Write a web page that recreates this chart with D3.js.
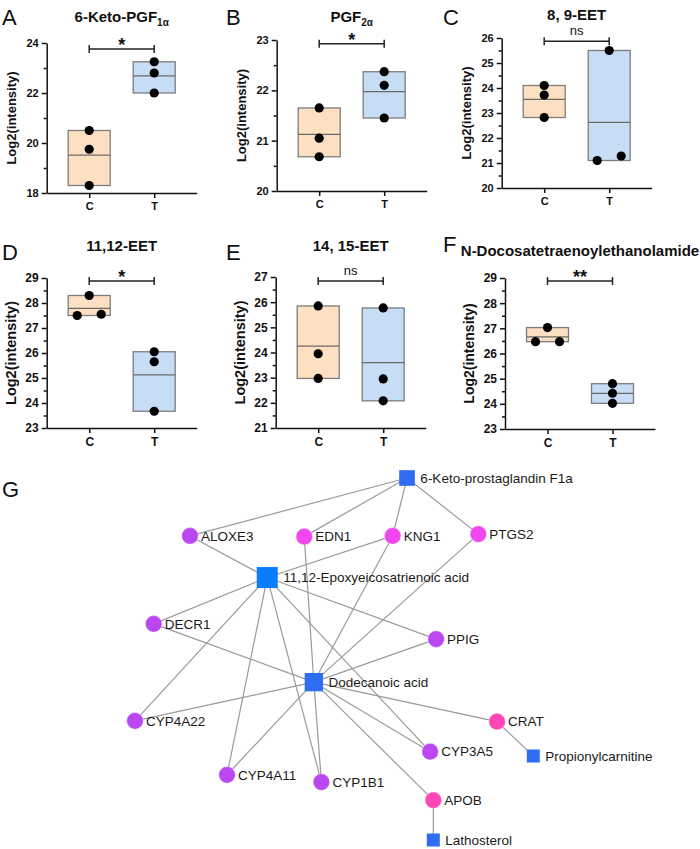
<!DOCTYPE html>
<html><head><meta charset="utf-8">
<script src="https://cdn.jsdelivr.net/npm/d3@7"></script>
<style>body{margin:0;background:#fff}svg{display:block}</style>
</head><body><svg id="c" width="700" height="849"></svg>
<script>
// ---------------- DATA ----------------
const groups = ["C", "T"];
const panelLetters = ["A", "B", "C", "D", "E", "F"];
const titleMain = ["6-Keto-PGF", "PGF", "8, 9-EET", "11,12-EET", "14, 15-EET", "N-Docosatetraenoylethanolamide"];
const titleSub = ["1α", "2α", "", "", "", ""];
const controlValues = [
  [20.5, 19.75, 18.3],
  [21.65, 21.05, 20.68],
  [24.1, 23.72, 22.82],
  [28.3, 27.5, 27.55],
  [25.85, 23.95, 22.97],
  [27.03, 26.47, 26.47]
];
const treatValues = [
  [23.25, 22.8, 22.0],
  [22.37, 22.1, 21.45],
  [25.5, 21.1, 21.28],
  [26.05, 25.65, 23.67],
  [25.77, 22.95, 22.08],
  [24.8, 24.42, 24.02]
];
const yDomains = [[18, 24], [20, 23], [20, 26], [23, 29], [21, 27], [23, 29]];
const majorStep = [2, 1, 1, 1, 1, 1];
const minorStep = [1, 0.5, 0.5, 0.5, 0.5, 0.5];
const sigLabels = ["*", "*", "ns", "*", "ns", "**"];
const yAxisTitle = "Log2(intensity)";

// network
const nodeNames = ["6-Keto-prostaglandin F1a", "ALOXE3", "EDN1", "KNG1", "PTGS2",
  "11,12-Epoxyeicosatrienoic acid", "DECR1", "PPIG", "Dodecanoic acid", "CYP4A22",
  "CRAT", "CYP3A5", "Propionylcarnitine", "CYP4A11", "CYP1B1", "APOB", "Lathosterol"];
const nodeKind = ["met", "gene", "gene", "gene", "gene", "met", "gene", "gene", "met", "gene",
  "gene", "gene", "met", "gene", "gene", "gene", "met"];
const nodeClass = ["metB", "violet", "magenta", "magenta", "magenta", "metA", "violet", "violet", "metB", "violet",
  "pink", "violet", "metB", "violet", "violet", "pink", "metB"];
const nodeWeight = [2, 1, 1, 1, 1, 4, 1, 1, 3, 1, 1, 1, 1, 1, 1, 1, 1];
// layout coordinates of the network (normalized 0-100 layout space)
const nodeLX = [68.3, 13.8, 42.5, 64.7, 86.2, 33.2, 4.7, 75.6, 44.9, 0, 90.9, 74.1, 100, 23.1, 46.8, 74.9, 74.9];
const nodeLY = [0, 16.0, 16.2, 16.0, 15.5, 27.5, 40.3, 44.5, 56.4, 67.1, 67.3, 75.6, 76.8, 82.0, 84.0, 89.0, 100];
const edgeList = [
  ["6-Keto-prostaglandin F1a", "ALOXE3"], ["6-Keto-prostaglandin F1a", "EDN1"],
  ["6-Keto-prostaglandin F1a", "KNG1"], ["6-Keto-prostaglandin F1a", "PTGS2"],
  ["11,12-Epoxyeicosatrienoic acid", "ALOXE3"], ["11,12-Epoxyeicosatrienoic acid", "KNG1"],
  ["11,12-Epoxyeicosatrienoic acid", "DECR1"], ["11,12-Epoxyeicosatrienoic acid", "PPIG"],
  ["11,12-Epoxyeicosatrienoic acid", "CYP4A22"], ["11,12-Epoxyeicosatrienoic acid", "CYP4A11"],
  ["11,12-Epoxyeicosatrienoic acid", "CYP1B1"], ["11,12-Epoxyeicosatrienoic acid", "CYP3A5"],
  ["Dodecanoic acid", "EDN1"], ["Dodecanoic acid", "KNG1"], ["Dodecanoic acid", "PTGS2"],
  ["Dodecanoic acid", "DECR1"], ["Dodecanoic acid", "PPIG"], ["Dodecanoic acid", "CYP4A22"],
  ["Dodecanoic acid", "CYP4A11"], ["Dodecanoic acid", "CYP1B1"], ["Dodecanoic acid", "CYP3A5"],
  ["Dodecanoic acid", "CRAT"], ["Dodecanoic acid", "APOB"],
  ["CRAT", "Propionylcarnitine"], ["APOB", "Lathosterol"]
];

// ---------------- LAYOUT / STYLE ----------------
const FONT = "'Liberation Sans', Arial, Helvetica, sans-serif";
const panelAxisX = [46.7, 276.7, 501.7, 46.7, 275.7, 505];
const panelTop = [43, 40, 38, 278, 277, 278];
const panelBottom = [193, 191, 188, 428, 428, 429];
const bracketOffset = [6, 3.7, 3.2, 3, 4, 3];
const plotW = 150;
const boxW = 42;
const dotR = 4.6;
const boxFill = ["#fde0c2", "#c7ddf6"];
const letterPos = [[2, 25], [226, 25], [443, 25], [2, 260], [226, 260], [443, 252]];
const titleY = [22, 22, 19.5, 251, 251, 256];
const axisTitleSize = [13, 13, 13, 14.5, 14.5, 14];
const tickFontSize = [11, 11, 11, 12, 12, 12];
const classColor = { metA: "#0b7bff", metB: "#2f6ef3", violet: "#ba47f0", magenta: "#f047ee", pink: "#ff47b5" };

const svg = d3.select("#c");
svg.append("rect").attr("width", 700).attr("height", 849).attr("fill", "#fff");

panelLetters.forEach((L, i) => {
  const g = svg.append("g");
  const x0 = panelAxisX[i], yt = panelTop[i], yb = panelBottom[i];
  const x = d3.scalePoint().domain(groups).range([x0, x0 + plotW]).padding(0.654);
  const y = d3.scaleLinear().domain(yDomains[i]).range([yb, yt]);

  // letter
  g.append("text").attr("x", letterPos[i][0]).attr("y", letterPos[i][1])
    .attr("font-family", FONT).attr("font-size", 22).attr("fill", "#111").text(L);
  // title
  const t = g.append("text").attr("x", x0 + plotW / 2).attr("y", titleY[i])
    .attr("text-anchor", "middle").attr("font-family", FONT).attr("font-weight", "bold")
    .attr("font-size", 15).attr("fill", "#111");
  t.append("tspan").text(titleMain[i]);
  if (titleSub[i]) t.append("tspan").attr("font-size", 10).attr("dy", 4).text(titleSub[i]);

  // boxes + mean line + dots
  const series = [controlValues[i], treatValues[i]];
  groups.forEach((gn, j) => {
    const v = series[j];
    const [lo, hi] = d3.extent(v);
    const m = d3.mean(v);
    const cx = x(gn);
    g.append("rect").attr("x", cx - boxW / 2).attr("width", boxW)
      .attr("y", y(hi)).attr("height", y(lo) - y(hi))
      .attr("fill", boxFill[j]).attr("stroke", "#7d7d7d").attr("stroke-width", 1.3);
    g.append("line").attr("x1", cx - boxW / 2).attr("x2", cx + boxW / 2)
      .attr("y1", y(m)).attr("y2", y(m)).attr("stroke", "#6a6a6a").attr("stroke-width", 1.3);
    // collision-based horizontal spreading
    const idx = d3.range(v.length).sort((a, b) => v[a] - v[b]);
    const offs = new Array(v.length).fill(0);
    const used = new Set();
    idx.forEach((a, k) => {
      if (used.has(a)) return;
      const cluster = [a];
      for (let q = k + 1; q < idx.length; q++) {
        const b = idx[q];
        if (Math.abs(y(v[b]) - y(v[cluster[cluster.length - 1]])) < 7) cluster.push(b);
      }
      if (cluster.length > 1) {
        cluster.forEach((c, ci) => {
          offs[c] = (ci - (cluster.length - 1) / 2) * 24 / Math.max(1, (cluster.length - 1));
          used.add(c);
        });
      }
    });
    g.selectAll(null).data(v).enter().append("circle")
      .attr("cx", (d, k) => cx + offs[k]).attr("cy", d => y(d)).attr("r", dotR).attr("fill", "#000");
  });

  // y axis major + minor
  const [d0, d1] = yDomains[i];
  const major = d3.range(d0, d1 + 1e-9, majorStep[i]);
  const minor = d3.range(d0, d1 + 1e-9, minorStep[i]).filter(v => !major.some(m => Math.abs(m - v) < 1e-9));
  const ya = g.append("g").attr("transform", `translate(${x0},0)`)
    .call(d3.axisLeft(y).tickValues(major).tickSize(5).tickSizeOuter(0).tickPadding(3).tickFormat(d3.format("d")));
  ya.append("g").call(d3.axisLeft(y).tickValues(minor).tickSize(3).tickSizeOuter(0).tickFormat(""))
    .select(".domain").remove();
  ya.selectAll("path,line").attr("stroke", "#111").attr("stroke-width", 1.5);
  ya.selectAll("text").attr("font-family", FONT).attr("font-weight", "bold").attr("font-size", tickFontSize[i]).attr("fill", "#111");

  // x axis
  const xa = g.append("g").attr("transform", `translate(0,${yb})`)
    .call(d3.axisBottom(x).tickSize(5).tickSizeOuter(0).tickPadding(4));
  xa.selectAll("path,line").attr("stroke", "#111").attr("stroke-width", 1.5);
  xa.selectAll("text").attr("font-family", FONT).attr("font-weight", "bold").attr("font-size", tickFontSize[i]).attr("fill", "#111");

  // y axis title
  g.append("text").attr("transform", `translate(${x0 - 31},${(yt + yb) / 2}) rotate(-90)`)
    .attr("text-anchor", "middle").attr("font-family", FONT).attr("font-weight", "bold")
    .attr("font-size", axisTitleSize[i]).attr("fill", "#111").text(yAxisTitle);

  // significance bracket
  const by = yt + bracketOffset[i];
  const bx1 = x(groups[0]), bx2 = x(groups[1]);
  const br = g.append("g").attr("stroke", "#222").attr("stroke-width", 1.5);
  br.append("line").attr("x1", bx1).attr("x2", bx2).attr("y1", by).attr("y2", by);
  br.append("line").attr("x1", bx1).attr("x2", bx1).attr("y1", by - 4).attr("y2", by + 4);
  br.append("line").attr("x1", bx2).attr("x2", bx2).attr("y1", by - 4).attr("y2", by + 4);
  const isNs = sigLabels[i] === "ns";
  g.append("text").attr("x", (bx1 + bx2) / 2).attr("y", isNs ? by - 6 : by + 2)
    .attr("text-anchor", "middle").attr("font-family", FONT)
    .attr("font-weight", isNs ? "normal" : "bold").attr("font-size", isNs ? 13 : 18)
    .attr("fill", "#111").text(sigLabels[i]);
});

// ---------------- NETWORK ----------------
svg.append("text").attr("x", 2).attr("y", 497).attr("font-family", FONT).attr("font-size", 22).attr("fill", "#111").text("G");
const nx = d3.scaleLinear().domain([0, 100]).range([135, 533.3]);
const ny = d3.scaleLinear().domain([0, 100]).range([478, 840]);
const sqSize = d3.scaleLinear().domain([1, 4]).range([13, 21]);
const nodes = nodeNames.map((n, i) => ({ name: n, kind: nodeKind[i], cls: nodeClass[i], w: nodeWeight[i], x: nx(nodeLX[i]), y: ny(nodeLY[i]) }));
const byName = new Map(nodes.map(n => [n.name, n]));
const net = svg.append("g");
net.selectAll("line.edge").data(edgeList).enter().append("line").attr("class", "edge")
  .attr("x1", d => byName.get(d[0]).x).attr("y1", d => byName.get(d[0]).y)
  .attr("x2", d => byName.get(d[1]).x).attr("y2", d => byName.get(d[1]).y)
  .attr("stroke", "#9a9a9a").attr("stroke-width", 1.2);
const ng = net.selectAll("g.node").data(nodes).enter().append("g").attr("class", "node")
  .attr("transform", d => `translate(${d.x},${d.y})`);
ng.filter(d => d.kind === "gene").append("circle").attr("r", 8.3)
  .attr("fill", d => classColor[d.cls]).attr("stroke", "#fff").attr("stroke-opacity", 0.5).attr("stroke-width", 0.8);
ng.filter(d => d.kind === "met").append("rect")
  .attr("x", d => -sqSize(d.w) / 2).attr("y", d => -sqSize(d.w) / 2)
  .attr("width", d => sqSize(d.w)).attr("height", d => sqSize(d.w))
  .attr("fill", d => classColor[d.cls]);
ng.append("text")
  .attr("x", d => d.kind === "gene" ? 11 : sqSize(d.w) / 2 + 5.5)
  .attr("y", 4.8)
  .attr("font-family", FONT).attr("font-size", 13.5).attr("fill", "#1a1a1a")
  .text(d => d.name);
</script></body></html>
